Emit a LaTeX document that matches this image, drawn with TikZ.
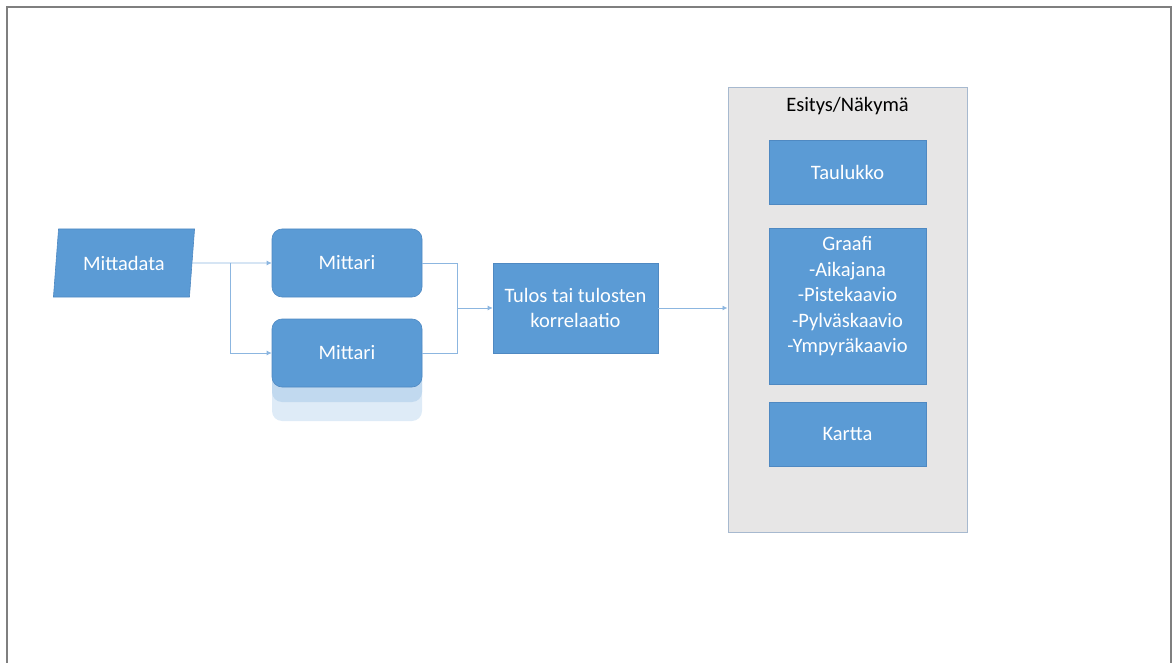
\documentclass[tikz,border=0pt]{standalone}
\usepackage{fontspec}
\setmainfont{Carlito}
\usetikzlibrary{shapes.geometric,arrows.meta,positioning}
\definecolor{boxcol}{HTML}{5B9BD5}
\definecolor{edgecol}{HTML}{4F89C2}
\definecolor{linecol}{HTML}{8CB6E0}
\definecolor{viewcol}{HTML}{E7E6E6}
\definecolor{viewedge}{HTML}{A7B9CF}
\definecolor{framecol}{HTML}{7F7F7F}

\begin{document}
\begin{tikzpicture}[x=1pt,y=-1pt,
  box/.style={draw=edgecol,line width=0.6pt,fill=boxcol,text=white,inner sep=0pt,align=center,font=\fontsize{20.5}{25.5}\selectfont},
  mittari/.style={box,rounded corners=10pt,minimum width=150pt,minimum height=68pt},
  dataio/.style={box,trapezium,trapezium left angle=77.5,trapezium right angle=102.5,trapezium stretches=true,minimum width=142pt,minimum height=68pt},
  line/.style={draw=linecol,line width=0.9pt},
  conn/.style={line,-{Latex[length=5pt,width=5pt]}}]
  \useasboundingbox (0,0) rectangle (1173,663);
  \draw[framecol,line width=1.5pt] (7,663) -- (7,7) -- (1171,7) -- (1171,663);
  \node[dataio] (data) at (124,263) {Mittadata};
  \node[mittari] (mit1) at (347,263) {Mittari};
  % pino mittarin alla
  \fill[boxcol!20,rounded corners=10pt] (272,345) rectangle (422,421);
  \fill[boxcol!38,rounded corners=10pt] (272,335) rectangle (422,402);
  \node[mittari] (mit2) at (347,353) {Mittari};
  \node[box,minimum width=165pt,minimum height=90pt] (tulos) at (575.5,308) {Tulos tai tulosten\\korrelaatio};
  \node[draw=viewedge,line width=1pt,fill=viewcol,minimum width=239pt,minimum height=444pt] (view) at (847.5,310) {};
  \node[font=\fontsize{20.5}{25.5}\selectfont] (title) at (847.5,106) {Esitys/Näkymä};
  \node[box,minimum width=157pt,minimum height=64pt] (taul) at (847.5,172) {Taulukko};
  \node[box,minimum width=157pt,inner ysep=8pt,text depth=24pt] (graafi) at (847.5,306.5) {Graafi\\-Aikajana\\-Pistekaavio\\-Pylväskaavio\\-Ympyräkaavio};
  \node[box,minimum width=157pt,minimum height=64pt] (kartta) at (847.5,434) {Kartta};
  \coordinate (split) at (230,263);
  \coordinate (join) at (457,308);
  \draw[conn] (data.east) -- (mit1.west);
  \draw[conn] (split) |- (mit2.west);
  \draw[line] (mit1.east) -| (join);
  \draw[line] (mit2.east) -| (join);
  \draw[conn] (join) -- (tulos.west);
  \draw[conn] (tulos.east) -- (tulos.east -| view.west);
\end{tikzpicture}
\end{document}
